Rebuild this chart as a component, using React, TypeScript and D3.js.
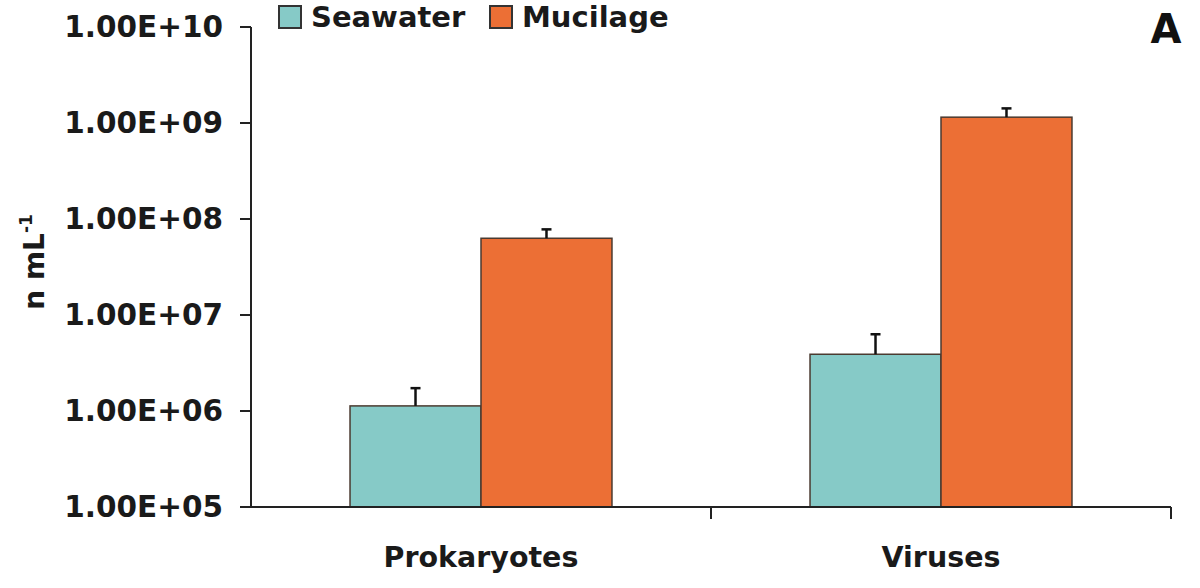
import React from "react";
import * as d3 from "d3";

const categories = ["Prokaryotes", "Viruses"];
const seriesNames = ["Seawater", "Mucilage"];
const seawaterValues = [1.13e6, 3.9e6];
const seawaterErrors = [0.6e6, 2.4e6];
const mucilageValues = [6.3e7, 1.15e9];
const mucilageErrors = [1.5e7, 0.27e9];
const yTicks = [1e5, 1e6, 1e7, 1e8, 1e9, 1e10];
const yTickLabels = ["1.00E+05", "1.00E+06", "1.00E+07", "1.00E+08", "1.00E+09", "1.00E+10"];
const colors = ["#86CAC7", "#EC6F35"];

const W = 1200;
const H = 588;
const FONT = "'DejaVu Sans', Verdana, sans-serif";

export default function App() {
  const x0 = d3.scaleBand<string>().domain(categories).range([251, 1171]).padding(0);
  const x1 = d3
    .scaleBand<string>()
    .domain(seriesNames)
    .range([0, x0.bandwidth()])
    .paddingInner(0)
    .paddingOuter(0.756);
  const y = d3.scaleLog().domain([1e5, 1e10]).range([507, 27]);

  const series = [
    { name: seriesNames[0], values: seawaterValues, errors: seawaterErrors, color: colors[0] },
    { name: seriesNames[1], values: mucilageValues, errors: mucilageErrors, color: colors[1] },
  ];

  const [xl, xr] = x0.range();
  const [yb, yt] = y.range();

  return (
    <svg width={W} height={H} style={{ display: "block", position: "absolute", left: 0, top: 0 }} fontFamily={FONT}>
      <rect width={W} height={H} fill="#fff" />
      {/* bars */}
      {series.map((s) =>
        categories.map((c, i) => {
          const bx = (x0(c) as number) + (x1(s.name) as number);
          const bw = x1.bandwidth();
          const top = y(s.values[i]);
          const errTop = y(s.values[i] + s.errors[i]);
          const cx = bx + bw / 2;
          return (
            <g key={s.name + c}>
              <rect x={bx} y={top} width={bw} height={yb - top} fill={s.color} stroke="#4a3a30" strokeWidth={1.5} />
              <line x1={cx} x2={cx} y1={top} y2={errTop} stroke="#111" strokeWidth={2.5} />
              <line x1={cx - 5} x2={cx + 5} y1={errTop} y2={errTop} stroke="#111" strokeWidth={2.5} />
            </g>
          );
        })
      )}
      {/* y axis */}
      <line x1={xl} x2={xl} y1={yt} y2={yb} stroke="#222" strokeWidth={2} />
      {yTicks.map((t, i) => (
        <g key={t}>
          <line x1={xl - 11} x2={xl} y1={y(t)} y2={y(t)} stroke="#222" strokeWidth={2} />
          <text
            x={223}
            y={y(t)}
            textAnchor="end"
            dominantBaseline="central"
            fontSize={29.5}
            fontWeight="bold"
            fill="#1a1a1a"
          >
            {yTickLabels[i]}
          </text>
        </g>
      ))}
      {/* x axis */}
      <line x1={xl} x2={xr} y1={yb} y2={yb} stroke="#222" strokeWidth={2} />
      {[...categories.map((c) => x0(c) as number), xr].slice(1).map((xv) => (
        <line key={xv} x1={xv} x2={xv} y1={yb} y2={yb + 12} stroke="#222" strokeWidth={2} />
      ))}
      {categories.map((c) => (
        <text
          key={c}
          x={(x0(c) as number) + x0.bandwidth() / 2}
          y={567}
          textAnchor="middle"
          fontSize={28.5}
          fontWeight="bold"
          fill="#1a1a1a"
        >
          {c}
        </text>
      ))}
      {/* y title */}
      <text
        transform="translate(44,262) rotate(-90)"
        textAnchor="middle"
        fontSize={28}
        fontWeight="bold"
        fill="#1a1a1a"
      >
        n mL<tspan fontSize={17} dy={-12}>-1</tspan>
      </text>
      {/* legend */}
      {series.map((s, i) => {
        const lx = [279, 490][i];
        return (
          <g key={s.name}>
            <rect x={lx} y={6} width={22} height={22} fill={s.color} stroke="#333" strokeWidth={2} />
            <text x={lx + 32} y={17} dominantBaseline="central" fontSize={29} fontWeight="bold" fill="#1a1a1a">
              {s.name}
            </text>
          </g>
        );
      })}
      {/* panel letter */}
      <text x={1166} y={43} textAnchor="middle" fontSize={40} fontWeight="bold" fill="#111">
        A
      </text>
    </svg>
  );
}
